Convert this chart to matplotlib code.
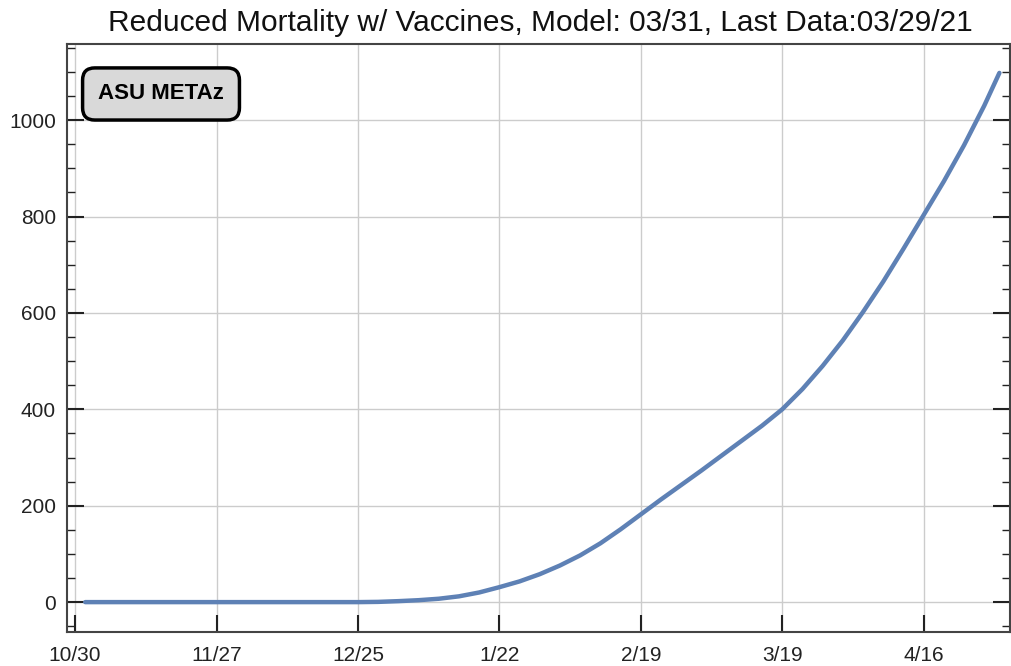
import numpy as np
import matplotlib
matplotlib.use("Agg")
from matplotlib import pyplot as plt
from matplotlib.ticker import MultipleLocator

plt.rcParams['font.family'] = ['Liberation Sans', 'DejaVu Sans']

# days after 10/30/2020 and reduced deaths
days = [2, 20, 40, 56, 60, 64, 68, 72, 76, 80,
        84, 88, 92, 96, 100, 104, 108, 112, 116, 120,
        124, 128, 132, 136, 140, 144, 148, 152, 156, 160,
        164, 168, 172, 176, 180, 183]
deaths = [0, 0, 0, 0, 0.5, 2, 4, 7, 12, 20,
          31, 43, 58, 76, 97, 122, 151, 182, 213, 243,
          273, 304, 335, 366, 400, 442, 490, 543, 602, 665,
          733, 803, 873, 948, 1030, 1098]

tick_days = [0, 28, 56, 84, 112, 140, 168]
tick_labels = ["10/30", "11/27", "12/25", "1/22", "2/19", "3/19", "4/16"]
y_ticks = [0, 200, 400, 600, 800, 1000]

fig = plt.figure(figsize=(10.12, 6.66), dpi=100)
ax = fig.add_axes([67 / 1012, 1 - 632 / 666, (1010 - 67) / 1012, (632 - 44) / 666])

ax.plot(days, deaths, color='#5E81B5', linewidth=3.2, solid_capstyle='round',
        solid_joinstyle='round', zorder=5)

ax.set_xlim(-1.6, 185.1)
ax.set_ylim(-62, 1158)

ax.set_xticks(tick_days)
ax.set_xticklabels(tick_labels)
ax.set_yticks(y_ticks)
ax.yaxis.set_minor_locator(MultipleLocator(50))

ax.grid(True, which='major', color='#cccccc', linewidth=1, zorder=0)
ax.tick_params(axis='both', which='major', direction='in', length=12, width=1.5,
               labelsize=15, colors='#222222')
ax.tick_params(axis='x', which='major', pad=10)
ax.tick_params(axis='y', which='major', pad=8)
ax.tick_params(axis='y', which='both', right=True)
ax.tick_params(axis='y', which='minor', direction='in', length=6, width=1, colors='#222222')
for s in ax.spines.values():
    s.set_color('#444444')
    s.set_linewidth(1.5)

fig.text(0.534, 0.965, "Reduced Mortality w/ Vaccines, Model: 03/31, Last Data:03/29/21",
         ha='center', va='center', fontsize=21.5, color='#111111')

ax.text(0.0997, 0.915, "ASU METAz", transform=ax.transAxes, ha='center', va='center',
        fontsize=16, fontweight='bold',
        bbox=dict(boxstyle='round,pad=0.7,rounding_size=0.55', facecolor='#d9d9d9',
                  edgecolor='black', linewidth=2.5), zorder=10)

fig.savefig("out.png", dpi=100)
